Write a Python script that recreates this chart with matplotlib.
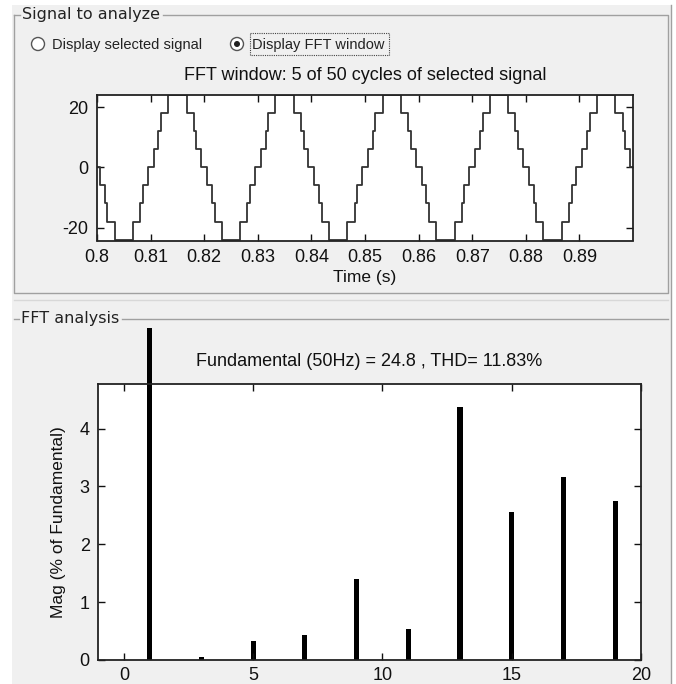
import numpy as np
import matplotlib.pyplot as plt
from matplotlib.patches import Circle, Rectangle

plt.rcParams['font.family'] = ['Liberation Sans', 'DejaVu Sans']
plt.rcParams['axes.unicode_minus'] = False

# -----------------------------------------------------------------------------
# data
# -----------------------------------------------------------------------------

f0 = 50.0                                 # Hz
t_start = 0.8                             # s, start of FFT window
n_cycles = 5
step_levels = [6, 12, 18, 24]             # staircase levels
switch_ms = [0.55, 1.45, 1.95, 3.3]       # ms after a zero crossing where each level turns on

time_ticks = [0.8, 0.81, 0.82, 0.83, 0.84, 0.85, 0.86, 0.87, 0.88, 0.89]
time_tick_labels = ['0.8', '0.81', '0.82', '0.83', '0.84', '0.85', '0.86', '0.87', '0.88', '0.89']

orders = [1, 3, 5, 7, 9, 11, 13, 15, 17, 19]
mag_pct = [100, 0.06, 0.33, 0.43, 1.40, 0.53, 4.37, 2.56, 3.17, 2.75]
fundamental = 24.8
thd = 11.83

W, H = 676, 684
PANEL = '#f0f0f0'
EDGE = '#a0a0a0'

# -----------------------------------------------------------------------------
# staircase waveform from the switching times
# -----------------------------------------------------------------------------

half = 0.5 / f0
edges_half = [a * 1e-3 for a in switch_ms] + [half - a * 1e-3 for a in reversed(switch_ms)]
vals_half = step_levels + step_levels[-2::-1] + [0]

t = [t_start]
v = [0]
for c in range(n_cycles):
    for h, sgn in ((0, -1), (1, 1)):
        t0 = t_start + c / f0 + h * half
        for e, lv in zip(edges_half, vals_half):
            t.append(t0 + e)
            v.append(sgn * lv)
t.append(t_start + n_cycles / f0)
v.append(0)

fig = plt.figure(figsize=(W / 100, H / 100), dpi=100, facecolor='white')
renderer = fig.canvas.get_renderer()

# background "GUI" layer, pixel coordinates
bg = fig.add_axes([0, 0, 1, 1], zorder=-1)
bg.set_xlim(0, W)
bg.set_ylim(H, 0)
bg.axis('off')
bg.add_patch(Rectangle((12, 5), 659, 679, facecolor=PANEL, edgecolor='none'))
bg.plot([671, 671], [5, 684], color=EDGE, lw=1)


def group_label(x, y, text):
    txt = bg.text(x, y, text, family='DejaVu Sans', fontsize=11.5, color='#222222',
                  va='center', ha='left')
    ext = txt.get_window_extent(renderer)
    return ext.x1 + 3   # pixel x where the frame line picks up again


# group box "Signal to analyze"
x_end = group_label(22, 15, 'Signal to analyze')
bg.plot([14, 20], [15, 15], color=EDGE, lw=1)
bg.plot([x_end, 668, 668, 14, 14], [15, 15, 293, 293, 15], color=EDGE, lw=1)
bg.plot([14, 668], [300, 300], color='#d8d8d8', lw=1)

# radio buttons
bg.add_patch(Circle((38, 44), 6.5, facecolor='white', edgecolor='#555555', lw=1))
bg.text(52, 44.5, 'Display selected signal', fontsize=10.5, color='#222222', va='center')
bg.add_patch(Circle((237, 44), 6.5, facecolor='white', edgecolor='#555555', lw=1))
bg.add_patch(Circle((237, 44), 3, facecolor='#222222', edgecolor='none'))
bg.text(252, 44.5, 'Display FFT window', fontsize=10.5, color='#222222', va='center')
bg.add_patch(Rectangle((250, 33), 139, 22, facecolor='none', edgecolor='#444444',
                       lw=0.8, ls=(0, (1, 1))))

# group box "FFT analysis"
x_end = group_label(21, 319, 'FFT analysis')
bg.plot([14, 19], [319, 319], color=EDGE, lw=1)
bg.plot([x_end, 668], [319, 319], color=EDGE, lw=1)


def style(ax):
    ax.tick_params(direction='in', length=5, width=1, top=True, right=True,
                   labelsize=13, pad=6, colors='#111111')
    for s in ax.spines.values():
        s.set_linewidth(1.3)
        s.set_color('#222222')


# -----------------------------------------------------------------------------
# top: FFT window signal
# -----------------------------------------------------------------------------

ax1 = fig.add_axes([97 / W, 1 - 240.5 / H, 536 / W, 145.5 / H])
ax1.step(t, v, where='post', color='#333333', lw=1.3)
ax1.set_xlim(t_start, t_start + n_cycles / f0)
ax1.set_ylim(-24.3, 24.0)
ax1.set_xticks(time_ticks)
ax1.set_xticklabels(time_tick_labels)
ax1.set_yticks([-20, 0, 20])
ax1.set_title(f'FFT window: {n_cycles} of 50 cycles of selected signal',
              fontsize=13, pad=11, color='#111111')
ax1.set_xlabel('Time (s)', fontsize=12.5, labelpad=3, color='#111111')
style(ax1)

# -----------------------------------------------------------------------------
# bottom: harmonic spectrum
# -----------------------------------------------------------------------------

ax2 = fig.add_axes([98 / W, 1 - 660 / H, 543 / W, 276 / H])
bars = ax2.bar(orders, mag_pct, width=0.2, color='black')
ax2.set_xlim(-1, 20)
ax2.set_ylim(0, 4.77)
ax2.set_xticks([0, 5, 10, 15, 20])
ax2.set_yticks([0, 1, 2, 3, 4])
ax2.set_title(f'Fundamental (50Hz) = {fundamental} , THD= {thd}%',
              fontsize=13, pad=13, color='#111111')
ax2.set_ylabel('Mag (% of Fundamental)', fontsize=12.5, labelpad=10, color='#111111')
style(ax2)
ax2.tick_params(axis='x', pad=5)

# the fundamental bar runs out of the axes up to the panel frame
panel_clip = Rectangle((0, 0), 1, 1 - 328 / H, transform=fig.transFigure)
for b in bars:
    b.set_clip_path(panel_clip)

fig.savefig('out.png', dpi=100, facecolor=fig.get_facecolor())
